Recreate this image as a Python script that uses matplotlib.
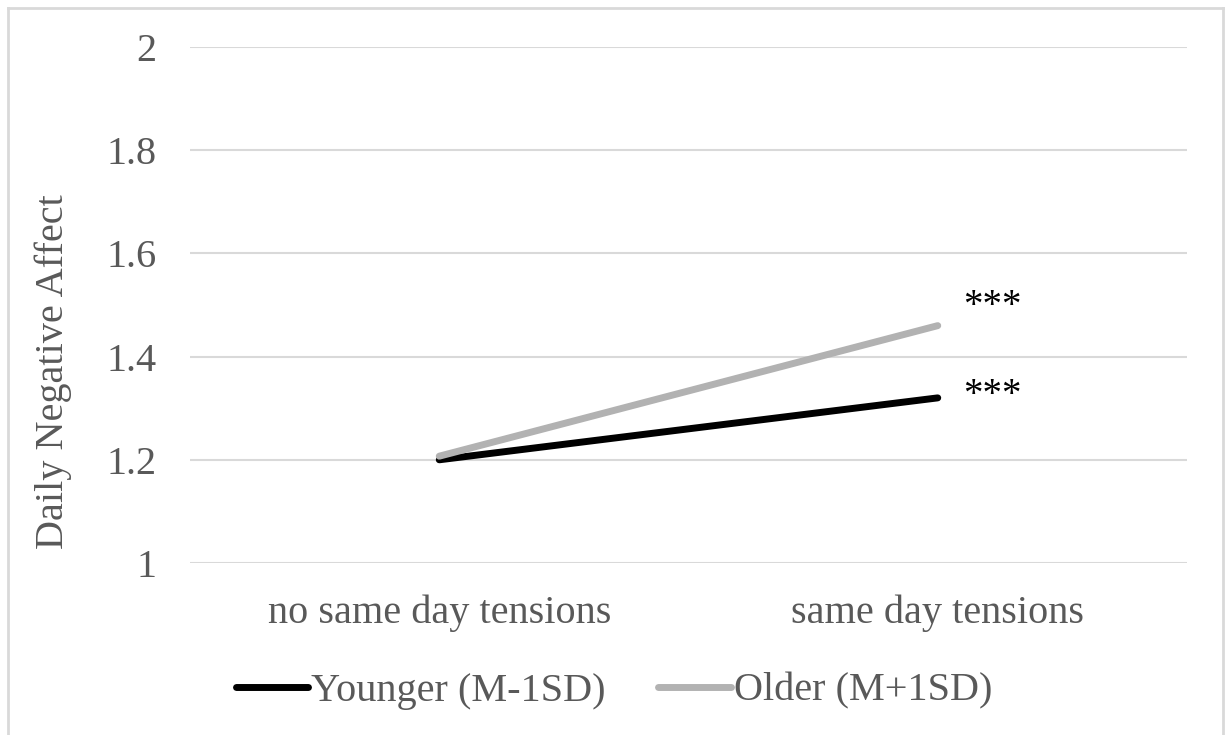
import matplotlib
matplotlib.use("Agg")
import matplotlib.pyplot as plt
from matplotlib.lines import Line2D

categories = ['no same day tensions', 'same day tensions']
younger = [1.20, 1.32]
older = [1.207, 1.46]
labels = ['Younger (M-1SD)', 'Older (M+1SD)']
yticks = [1, 1.2, 1.4, 1.6, 1.8, 2]
ytick_labels = ['1', '1.2', '1.4', '1.6', '1.8', '2']
stars = ['***', '***']

plt.rcParams['font.family'] = ['Liberation Serif', 'DejaVu Serif']
TXT = '#595959'

fig = plt.figure(figsize=(12.28, 7.35), dpi=100)
ax = fig.add_axes([190 / 1228, 1 - 563 / 735, 997 / 1228, 516 / 735])

x = [0.5, 1.5]
ax.plot(x, younger, color='black', lw=5, solid_capstyle='round', zorder=3, label=labels[0])
ax.plot(x, older, color='#b2b2b2', lw=5, solid_capstyle='round', zorder=3, label=labels[1])

# significance marks next to the right-hand points
ax.annotate(stars[0], (x[1], older[1]), xytext=(18, 14), textcoords='offset points',
            fontsize=28, color='black', va='center', ha='left')
ax.annotate(stars[1], (x[1], younger[1]), xytext=(18, 2), textcoords='offset points',
            fontsize=28, color='black', va='center', ha='left')

ax.set_xlim(0, 2)
ax.set_ylim(1, 2)
ax.set_xticks(x)
ax.set_xticklabels(categories, fontsize=29, color=TXT)
ax.set_yticks(yticks)
ax.set_yticklabels(ytick_labels, fontsize=29, color=TXT)
ax.tick_params(length=0, pad=24)
ax.tick_params(axis='x', pad=23)
ax.grid(axis='y', color='#d9d9d9', lw=1.5)
ax.set_axisbelow(True)
for s in ax.spines.values():
    s.set_visible(False)
ax.set_ylabel('Daily Negative Affect', fontsize=29, color=TXT)
ax.yaxis.set_label_coords(-0.118, 0.37)

fig.legend(handles=[Line2D([0], [0], color='black', lw=5, solid_capstyle='round'),
                    Line2D([0], [0], color='#b2b2b2', lw=5, solid_capstyle='round')],
           labels=labels, loc='center', bbox_to_anchor=(0.5, 1 - 691 / 735),
           ncol=2, frameon=False, fontsize=29, labelcolor=TXT,
           handlelength=1.8, handletextpad=0.08, columnspacing=1.3)

# outer chart border (no bottom edge visible)
bc = '#d9d9d9'
fig.add_artist(Line2D([8 / 1228, 8 / 1228], [0, 1 - 8 / 735], color=bc, lw=2))
fig.add_artist(Line2D([8 / 1228, 1223 / 1228], [1 - 8 / 735, 1 - 8 / 735], color=bc, lw=2))
fig.add_artist(Line2D([1223 / 1228, 1223 / 1228], [0, 1 - 8 / 735], color=bc, lw=2))

fig.savefig('out.png', dpi=100)
